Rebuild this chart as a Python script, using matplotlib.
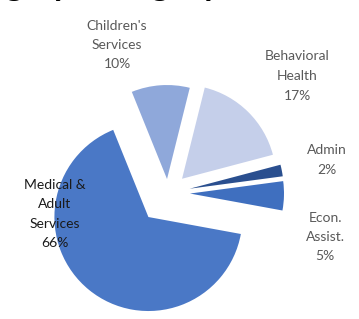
import numpy as np
import matplotlib
matplotlib.use('Agg')
import matplotlib.pyplot as plt

plt.rcParams['font.family'] = ['Lato', 'DejaVu Sans']

# data
categories = ["Children's\nServices", 'Behavioral\nHealth', 'Admin', 'Econ.\nAssist.', 'Medical &\nAdult\nServices']
shares = [10, 17, 2, 5, 66]
colors = ['#8FA8DA', '#C5CFEA', '#2A4F8F', '#3F6FBF', '#4A78C6']
explode = [14, 20, 22, 22, 31]   # offsets in pixels (pie explode is in data units)

# label centres in pixel coords (x, y from top)
label_pos = [(117, 45), (297, 76), (327, 160), (325, 237), (55, 214)]

W, H = 359, 319
fig = plt.figure(figsize=(W / 100, H / 100), dpi=100)
ax = fig.add_axes((0, 0, 1, 1))

ax.pie(shares, colors=colors, explode=explode, startangle=112, counterclock=False,
       center=(168, H - 193), radius=94, wedgeprops=dict(linewidth=0))

for cat, v, (x, y) in zip(categories, shares, label_pos):
    col = '#1a1a1a' if v == 66 else '#595959'
    ax.text(x, H - y, f'{cat}\n{v}%', ha='center', va='center', fontsize=10,
            color=col, linespacing=1.75)

# title, cropped off above the image: only descender tips show
ax.text(220, H + 5, 'Spending by Category', ha='right', va='baseline',
        fontsize=25, fontweight='bold', color='black')

ax.set_xlim(0, W)
ax.set_ylim(0, H)
ax.set_aspect('equal')
ax.axis('off')

fig.savefig('out.png', dpi=100)
